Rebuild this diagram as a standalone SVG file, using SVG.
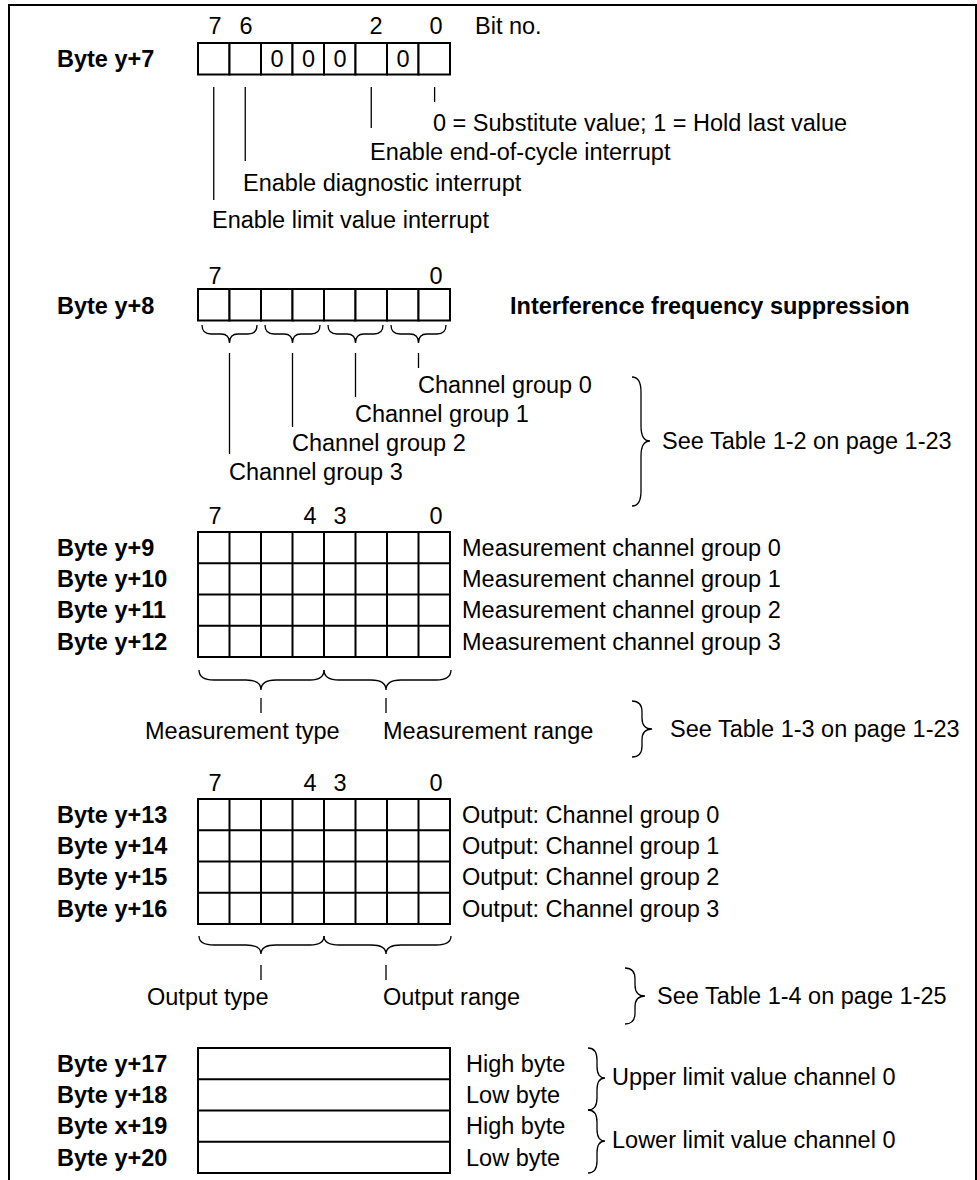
<svg xmlns="http://www.w3.org/2000/svg" width="977" height="1180" viewBox="0 0 977 1180">
<style>
text{font-family:"Liberation Sans",Arial,sans-serif;font-size:23.5px;fill:#000}
.b{font-weight:bold}
.m{text-anchor:middle}
.cell{fill:#fff;stroke:#000;stroke-width:2}
.grid{fill:none;stroke:#000;stroke-width:2}
.ln{stroke:#000;stroke-width:1.3;fill:none}
.br{stroke:#000;stroke-width:1.3;fill:none}
</style>
<rect x="0" y="0" width="977" height="1180" fill="#fff"/>
<path d="M9,1180 V5 H976 V1180" fill="none" stroke="#000" stroke-width="2"/>

<g id="byte-y7">
<text class="m" x="215" y="34">7</text><text class="m" x="246" y="34">6</text><text class="m" x="376" y="34">2</text><text class="m" x="436" y="34">0</text>
<text x="475" y="34">Bit no.</text>
<text class="b" x="57" y="67">Byte y+7</text>
<rect class="cell" x="198" y="43" width="31.5" height="31.5"/>
<rect class="cell" x="229.5" y="43" width="31.5" height="31.5"/>
<rect class="cell" x="261" y="43" width="31.5" height="31.5"/>
<rect class="cell" x="292.5" y="43" width="31.5" height="31.5"/>
<rect class="cell" x="324" y="43" width="31.5" height="31.5"/>
<rect class="cell" x="355.5" y="43" width="31.5" height="31.5"/>
<rect class="cell" x="387" y="43" width="31.5" height="31.5"/>
<rect class="cell" x="418.5" y="43" width="31.5" height="31.5"/>
<text class="m" x="277" y="67">0</text><text class="m" x="308.5" y="67">0</text><text class="m" x="340" y="67">0</text><text class="m" x="403" y="67">0</text>
<text x="433" y="131">0 = Substitute value; 1 = Hold last value</text>
<text x="370" y="160">Enable end-of-cycle interrupt</text>
<text x="243" y="191">Enable diagnostic interrupt</text>
<text x="212" y="228">Enable limit value interrupt</text>
</g>

<g id="byte-y8">
<text class="m" x="215" y="283.5">7</text><text class="m" x="436" y="283.5">0</text>
<text class="b" x="57" y="313.5">Byte y+8</text>
<text class="b" x="510" y="313.5">Interference frequency suppression</text>
<rect class="cell" x="198" y="289" width="31.5" height="31.5"/>
<rect class="cell" x="229.5" y="289" width="31.5" height="31.5"/>
<rect class="cell" x="261" y="289" width="31.5" height="31.5"/>
<rect class="cell" x="292.5" y="289" width="31.5" height="31.5"/>
<rect class="cell" x="324" y="289" width="31.5" height="31.5"/>
<rect class="cell" x="355.5" y="289" width="31.5" height="31.5"/>
<rect class="cell" x="387" y="289" width="31.5" height="31.5"/>
<rect class="cell" x="418.5" y="289" width="31.5" height="31.5"/>
<text x="418" y="393">Channel group 0</text>
<text x="355" y="422">Channel group 1</text>
<text x="292" y="451">Channel group 2</text>
<text x="229" y="480">Channel group 3</text>
<text x="662" y="449">See Table 1-2 on page 1-23</text>
</g>

<g id="bytes-y9-y12">
<text class="m" x="215" y="523.5">7</text><text class="m" x="310" y="523.5">4</text><text class="m" x="340" y="523.5">3</text><text class="m" x="436" y="523.5">0</text>
<rect class="grid" x="198" y="532" width="252" height="125"/>
<path class="grid" d="M229.5,532V657M261,532V657M292.5,532V657M324,532V657M355.5,532V657M387,532V657M418.5,532V657M198,563.25H450M198,594.5H450M198,625.75H450"/>
<text class="b" x="57" y="556">Byte y+9</text>
<text class="b" x="57" y="587">Byte y+10</text>
<text class="b" x="57" y="618">Byte y+11</text>
<text class="b" x="57" y="650">Byte y+12</text>
<text x="462" y="556">Measurement channel group 0</text>
<text x="462" y="587">Measurement channel group 1</text>
<text x="462" y="618">Measurement channel group 2</text>
<text x="462" y="650">Measurement channel group 3</text>
<text x="145" y="739">Measurement type</text>
<text x="383" y="739">Measurement range</text>
<text x="670" y="737">See Table 1-3 on page 1-23</text>
</g>

<g id="bytes-y13-y16">
<text class="m" x="215" y="790.5">7</text><text class="m" x="310" y="790.5">4</text><text class="m" x="340" y="790.5">3</text><text class="m" x="436" y="790.5">0</text>
<rect class="grid" x="198" y="799" width="252" height="125"/>
<path class="grid" d="M229.5,799V924M261,799V924M292.5,799V924M324,799V924M355.5,799V924M387,799V924M418.5,799V924M198,830.25H450M198,861.5H450M198,892.75H450"/>
<text class="b" x="57" y="823">Byte y+13</text>
<text class="b" x="57" y="854">Byte y+14</text>
<text class="b" x="57" y="885">Byte y+15</text>
<text class="b" x="57" y="917">Byte y+16</text>
<text x="462" y="823">Output: Channel group 0</text>
<text x="462" y="854">Output: Channel group 1</text>
<text x="462" y="885">Output: Channel group 2</text>
<text x="462" y="917">Output: Channel group 3</text>
<text x="147" y="1005">Output type</text>
<text x="383" y="1005">Output range</text>
<text x="657" y="1004">See Table 1-4 on page 1-25</text>
</g>

<g id="bytes-y17-y20">
<rect class="grid" x="198" y="1048" width="252" height="125"/>
<path class="grid" d="M198,1079.25H450M198,1110.5H450M198,1141.75H450"/>
<text class="b" x="57" y="1072">Byte y+17</text>
<text class="b" x="57" y="1103">Byte y+18</text>
<text class="b" x="57" y="1134">Byte x+19</text>
<text class="b" x="57" y="1166">Byte y+20</text>
<text x="466" y="1072">High byte</text>
<text x="466" y="1103">Low byte</text>
<text x="466" y="1134">High byte</text>
<text x="466" y="1166">Low byte</text>
<text x="612" y="1085">Upper limit value channel 0</text>
<text x="612" y="1148">Lower limit value channel 0</text>
</g>

<g id="connectors">
<path class="ln" d="M434.6,87V102M371.25,87V128M245.25,87V161M213.75,87V200"/>
<path class="br" d="M202,325Q202,334 211,334L221,334Q229.5,334 229.5,343Q229.5,334 238,334L248,334Q257,334 257,325"/>
<path class="br" d="M265,325Q265,334 274,334L284,334Q292.5,334 292.5,343Q292.5,334 301,334L311,334Q320,334 320,325"/>
<path class="br" d="M328,325Q328,334 337,334L347,334Q355.5,334 355.5,343Q355.5,334 364,334L374,334Q383,334 383,325"/>
<path class="br" d="M391,325Q391,334 400,334L410,334Q418.5,334 418.5,343Q418.5,334 427,334L437,334Q446,334 446,325"/>
<path class="ln" d="M418.5,353V368M355.5,353V397M292.5,353V427M229.5,353V454"/>
<path class="br" d="M632,377Q641,377 641,392L641,426Q641,441 650,441Q641,441 641,456L641,491Q641,506 632,506"/>
<path class="br" d="M199,670Q199,680 214,680L246,680Q261,680 261,690Q261,680 276,680L310,680Q324,680 324,670"/>
<path class="br" d="M324,670Q324,680 339,680L371,680Q386,680 386,690Q386,680 401,680L436,680Q451,680 451,670"/>
<path class="ln" d="M261,698V713M386,698V713"/>
<path class="br" d="M632,701Q642,701 642,712L642,718Q642,729 652,729Q642,729 642,740L642,746Q642,757 632,757"/>
<path class="br" d="M199,936Q199,945 214,945L246,945Q261,945 261,954Q261,945 276,945L310,945Q324,945 324,936"/>
<path class="br" d="M324,936Q324,945 339,945L371,945Q386,945 386,954Q386,945 401,945L436,945Q451,945 451,936"/>
<path class="ln" d="M261,965V980M386,965V980"/>
<path class="br" d="M625,968Q635,968 635,979L635,985Q635,996 645,996Q635,996 635,1007L635,1013Q635,1024 625,1024"/>
<path class="br" d="M588,1048Q597,1048 597,1060L597,1066Q597,1078 605,1078Q597,1078 597,1090L597,1098Q597,1110 588,1110"/>
<path class="br" d="M588,1110Q597,1110 597,1122L597,1129Q597,1141 605,1141Q597,1141 597,1153L597,1161Q597,1173 588,1173"/>
</g>
</svg>
